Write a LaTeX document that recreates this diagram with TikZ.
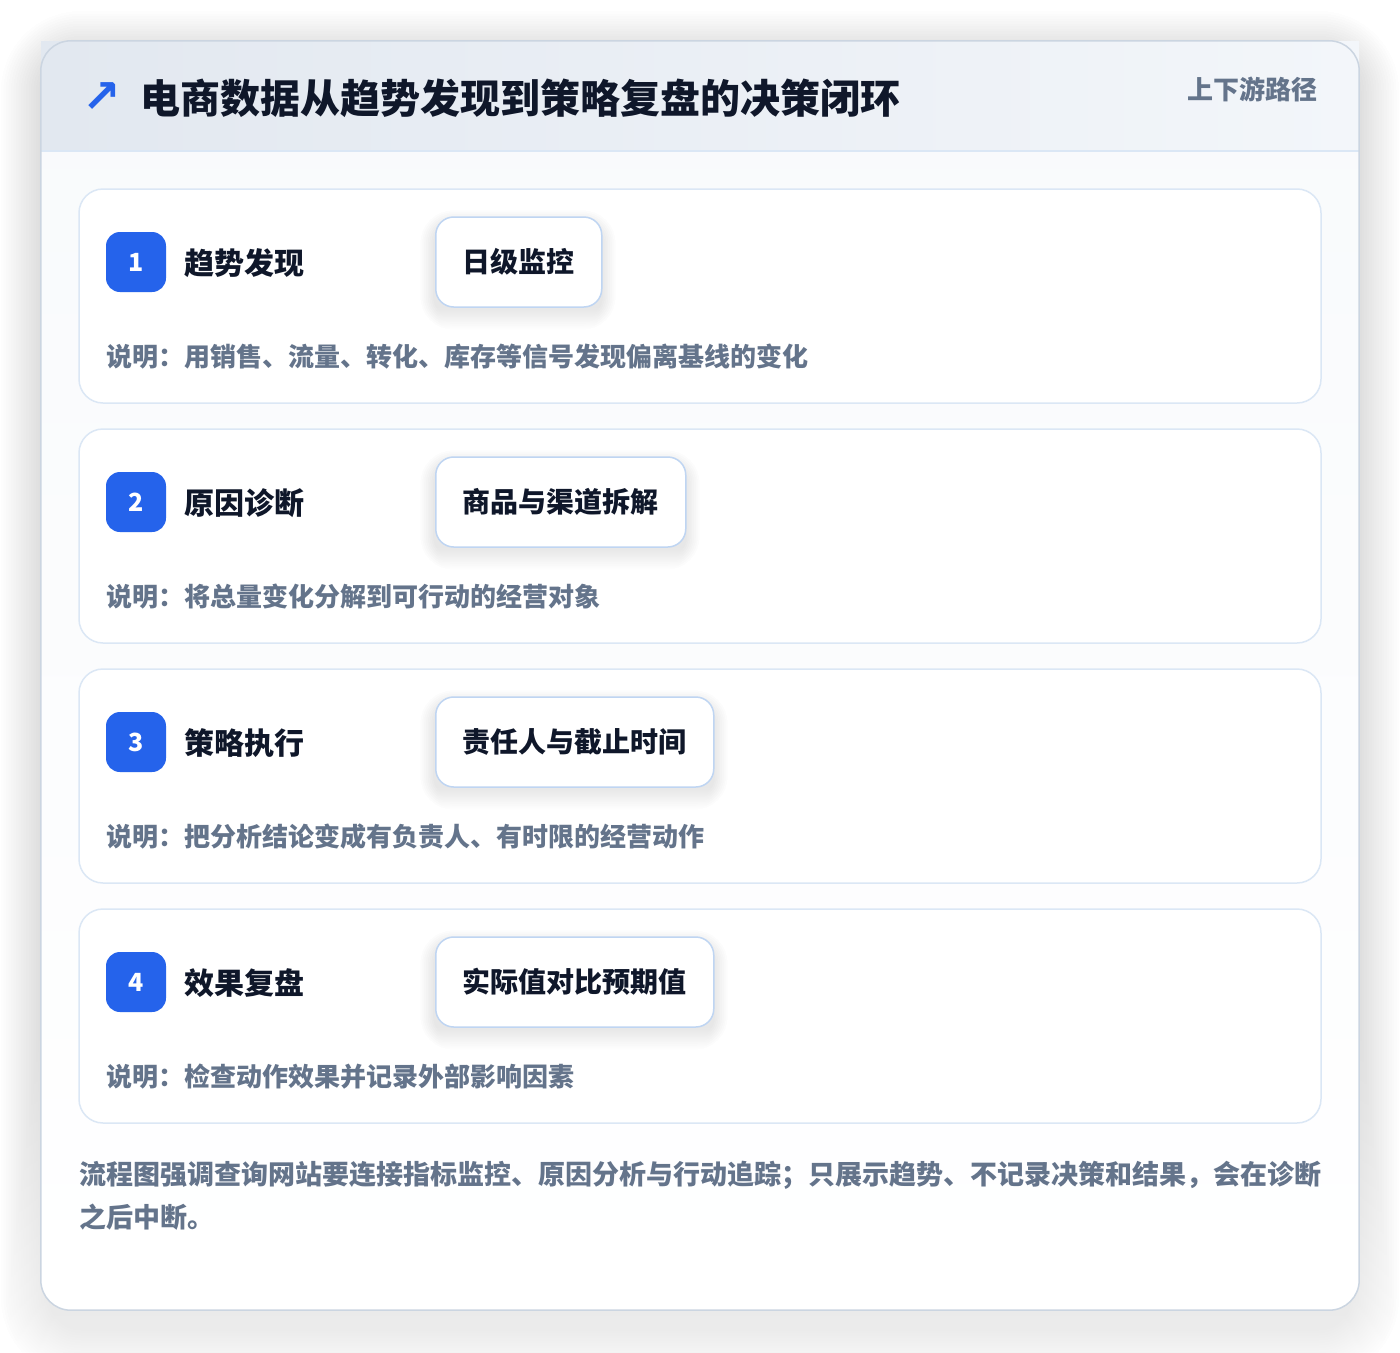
\documentclass[tikz,border=0pt]{standalone}
\usepackage{fontspec}
\setmainfont{Noto Sans CJK SC}
\newfontfamily\symfont{DejaVu Sans}
\definecolor{ink}{HTML}{0F172A}
\definecolor{muted}{HTML}{64748B}
\definecolor{brand}{HTML}{2563EB}
\definecolor{cardline}{HTML}{CBD5E1}
\definecolor{stepline}{HTML}{DBE7F5}
\definecolor{tagline}{HTML}{BFD5F2}
\definecolor{headA}{HTML}{E2E8F0}
\definecolor{headB}{HTML}{F3F6FA}
\definecolor{cardbg}{HTML}{F8FAFC}
\definecolor{shade}{HTML}{1E293B}
\begin{document}
\begin{tikzpicture}[x=1pt,y=-1pt,
  mainbox/.style={top color=cardbg, bottom color=white, rounded corners=30pt, minimum width=1318pt, minimum height=1269pt, inner sep=0pt},
  stepbox/.style={draw=stepline, line width=1.5pt, fill=white, rounded corners=24pt, minimum width=1242pt, minimum height=214pt, inner sep=0pt},
  badge/.style={fill=brand, rounded corners=14pt, minimum width=60pt, minimum height=60pt, inner sep=0pt, text=white, font=\fontsize{25}{28}\selectfont\bfseries},
  steptitle/.style={anchor=west, inner sep=0pt, text=ink, font=\fontsize{30}{36}\selectfont\bfseries},
  tagbox/.style={anchor=west, draw=tagline, line width=1.5pt, fill=white, rounded corners=18pt, minimum height=90pt, inner xsep=27pt, inner ysep=0pt, text=ink, font=\fontsize{28}{34}\selectfont\bfseries},
  desc/.style={anchor=west, inner sep=0pt, text=muted, font=\fontsize{26}{30}\selectfont\bfseries},
  foot/.style={anchor=west, inner sep=0pt, text=muted, font=\fontsize{27}{32}\selectfont\bfseries}
]
\useasboundingbox[fill=white] (0,0) rectangle (1400,1352);
% soft shadow of the main card
\foreach \i in {1,...,20}{
  \fill[shade, opacity=0.0045, rounded corners=30pt+2.5pt*\i]
    (51-2.5*\i,41+20-2.5*\i) rectangle (1349+2.5*\i,1310+18+2.5*\i);
}
\node[mainbox] (card) at (700,675.5) {};
\shade[left color=headA, right color=headB] (41,41) rectangle (1359,151);
\coordinate (hl) at (41,151);
\coordinate (hr) at (1359,151);
\draw[stepline, line width=1.5pt] (hl) -- (hr);
\draw[cardline, line width=1.5pt, rounded corners=30pt] (card.north west) rectangle (card.south east);

\node[anchor=center, inner sep=0pt, text=brand, font=\symfont\fontsize{46}{46}\selectfont\bfseries] (icon) at (102,98) {↗};
\node[anchor=west, inner sep=0pt, text=ink, font=\fontsize{40}{46}\selectfont\bfseries] (title) at (140,98) {电商数据从趋势发现到策略复盘的决策闭环};
\node[anchor=east, inner sep=0pt, text=muted, font=\fontsize{26}{30}\selectfont\bfseries] (sub) at (1318,89) {上下游路径};

\foreach \n/\t/\g/\d/\w in {
  1/趋势发现/日级监控/说明：用销售、流量、转化、库存等信号发现偏离基线的变化/166,
  2/原因诊断/商品与渠道拆解/说明：将总量变化分解到可行动的经营对象/250,
  3/策略执行/责任人与截止时间/说明：把分析结论变成有负责人、有时限的经营动作/278,
  4/效果复盘/实际值对比预期值/说明：检查动作效果并记录外部影响因素/278}{
  \pgfmathsetmacro{\oy}{240*(\n-1)}
  \node[stepbox] (step\n) at (700,296+\oy) {};
  \foreach \j in {1,...,8}{
    \fill[shade, opacity=0.008, rounded corners=18pt+1.8pt*\j]
      (435-1.8*\j,217+\oy+8-1.8*\j) rectangle (435+\w+1.8*\j,307+\oy+8+1.8*\j);
  }
  \node[badge] (badge\n) at (136,262+\oy) {\n};
  \node[steptitle] (title\n) at (184,263+\oy) {\t};
  \node[tagbox] (tag\n) at (435,262+\oy) {\g};
  \node[desc] (desc\n) at (106,357+\oy) {\d};
}

\node[foot] (foot1) at (79,1175) {流程图强调查询网站要连接指标监控、原因分析与行动追踪；只展示趋势、不记录决策和结果，会在诊断};
\node[foot] (foot2) at (79,1217) {之后中断。};
\end{tikzpicture}
\end{document}
